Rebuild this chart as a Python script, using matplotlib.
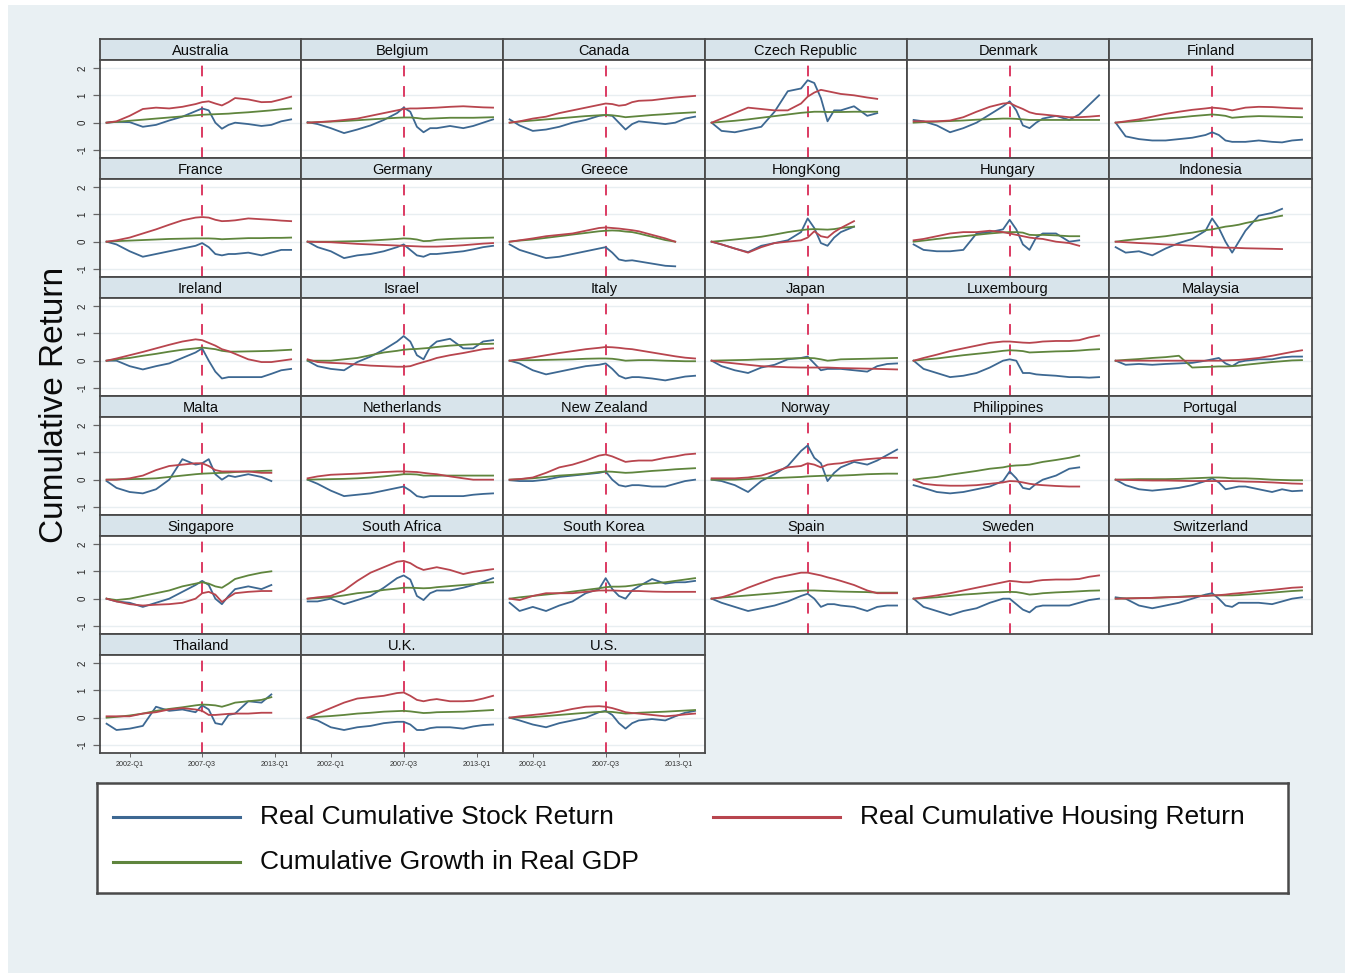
#!/usr/bin/env python3
"""
Real cumulative stock / housing returns and real GDP growth by country.
Small-multiple panels, 2000-2014, with the 2007-Q3 stock market peak marked.
"""

import matplotlib
matplotlib.use("Agg")
import numpy as np
import matplotlib.pyplot as plt
from matplotlib.lines import Line2D
from matplotlib.patches import Rectangle


# ============================================================================
# Data
# ============================================================================

# sample dates, decimal years
DATES = [2000.25, 2001.0, 2002.0, 2003.0, 2004.0, 2005.0, 2006.0, 2007.0, 2007.5,
         2008.0, 2008.5, 2009.0, 2009.5, 2010.0, 2011.0, 2012.0, 2012.75, 2013.5, 2014.25]

COUNTRIES = [
    "Australia", "Belgium", "Canada", "Czech Republic", "Denmark", "Finland",
    "France", "Germany", "Greece", "HongKong", "Hungary", "Indonesia",
    "Ireland", "Israel", "Italy", "Japan", "Luxembourg", "Malaysia",
    "Malta", "Netherlands", "New Zealand", "Norway", "Philippines", "Portugal",
    "Singapore", "South Africa", "South Korea", "Spain", "Sweden", "Switzerland",
    "Thailand", "U.K.", "U.S.",
]

# real cumulative stock return
STOCK = {
    "Australia": [0, 0.03, 0.02, -0.15, -0.08, 0.08, 0.22, 0.42, 0.52, 0.45, 0.0, -0.22, -0.08, 0.0, -0.05, -0.12, -0.08, 0.05, 0.12],
    "Belgium": [0.02, -0.05, -0.2, -0.38, -0.25, -0.1, 0.1, 0.35, 0.55, 0.4, -0.15, -0.35, -0.2, -0.2, -0.12, -0.2, -0.12, 0.0, 0.12],
    "Canada": [0.12, -0.1, -0.3, -0.25, -0.15, 0.0, 0.1, 0.25, 0.28, 0.25, 0.0, -0.25, -0.05, 0.05, 0.0, -0.05, 0.0, 0.15, 0.22],
    "Czech Republic": [0, -0.3, -0.35, -0.25, -0.15, 0.4, 1.15, 1.25, 1.55, 1.45, 0.9, 0.05, 0.45, 0.45, 0.6, 0.25, 0.35, None, None],
    "Denmark": [0.1, 0.05, -0.1, -0.35, -0.2, 0.0, 0.3, 0.6, 0.78, 0.45, -0.1, -0.2, 0.0, 0.15, 0.25, 0.1, 0.3, 0.65, 1.0],
    "Finland": [0, -0.5, -0.6, -0.65, -0.65, -0.6, -0.55, -0.45, -0.35, -0.45, -0.65, -0.7, -0.7, -0.7, -0.65, -0.7, -0.72, -0.65, -0.62],
    "France": [0, -0.1, -0.35, -0.55, -0.45, -0.35, -0.25, -0.15, -0.05, -0.2, -0.45, -0.5, -0.45, -0.45, -0.4, -0.5, -0.4, -0.3, -0.3],
    "Germany": [0, -0.2, -0.35, -0.6, -0.5, -0.45, -0.35, -0.2, -0.1, -0.3, -0.5, -0.55, -0.45, -0.45, -0.4, -0.35, -0.28, -0.2, -0.15],
    "Greece": [-0.1, -0.3, -0.45, -0.6, -0.55, -0.45, -0.35, -0.25, -0.2, -0.4, -0.65, -0.7, -0.68, -0.72, -0.8, -0.88, -0.9, None, None],
    "HongKong": [0, -0.1, -0.25, -0.38, -0.15, -0.05, 0.05, 0.35, 0.85, 0.5, -0.05, -0.15, 0.15, 0.35, 0.55, None, None, None, None],
    "Hungary": [-0.1, -0.3, -0.35, -0.35, -0.3, 0.3, 0.35, 0.45, 0.8, 0.45, -0.1, -0.3, 0.15, 0.3, 0.3, 0.0, 0.05, None, None],
    "Indonesia": [-0.2, -0.4, -0.35, -0.5, -0.25, -0.05, 0.1, 0.4, 0.85, 0.5, 0.0, -0.4, 0.0, 0.4, 0.95, 1.05, 1.2, None, None],
    "Ireland": [0, 0.0, -0.2, -0.32, -0.2, -0.1, 0.1, 0.3, 0.45, 0.0, -0.4, -0.65, -0.6, -0.6, -0.6, -0.6, -0.48, -0.35, -0.3],
    "Israel": [0, -0.2, -0.3, -0.35, -0.05, 0.15, 0.4, 0.7, 0.9, 0.7, 0.2, 0.05, 0.5, 0.7, 0.8, 0.45, 0.45, 0.7, 0.75],
    "Italy": [0, -0.1, -0.35, -0.5, -0.4, -0.3, -0.2, -0.15, -0.1, -0.3, -0.55, -0.65, -0.6, -0.6, -0.65, -0.72, -0.65, -0.58, -0.55],
    "Japan": [0, -0.2, -0.35, -0.45, -0.25, -0.15, 0.05, 0.1, 0.15, -0.1, -0.35, -0.3, -0.3, -0.3, -0.35, -0.4, -0.2, -0.12, -0.1],
    "Luxembourg": [0, -0.3, -0.45, -0.6, -0.55, -0.45, -0.25, 0.0, 0.05, 0.0, -0.45, -0.45, -0.5, -0.52, -0.55, -0.6, -0.6, -0.62, -0.6],
    "Malaysia": [0, -0.15, -0.12, -0.15, -0.12, -0.1, -0.08, 0.0, 0.05, 0.1, -0.1, -0.2, -0.05, 0.0, 0.05, 0.05, 0.12, 0.15, 0.15],
    "Malta": [-0.05, -0.3, -0.45, -0.5, -0.35, 0.0, 0.75, 0.55, 0.6, 0.75, 0.2, 0.0, 0.15, 0.1, 0.2, 0.1, -0.05, None, None],
    "Netherlands": [0, -0.15, -0.4, -0.6, -0.55, -0.5, -0.4, -0.3, -0.25, -0.4, -0.6, -0.65, -0.6, -0.6, -0.6, -0.6, -0.55, -0.52, -0.5],
    "New Zealand": [-0.02, -0.05, -0.05, 0.0, 0.1, 0.15, 0.2, 0.25, 0.3, 0.0, -0.2, -0.25, -0.2, -0.2, -0.25, -0.25, -0.15, -0.05, 0.0],
    "Norway": [0, -0.05, -0.2, -0.45, -0.05, 0.2, 0.5, 1.05, 1.25, 0.8, 0.6, -0.05, 0.25, 0.45, 0.65, 0.55, 0.7, 0.9, 1.1],
    "Philippines": [-0.2, -0.3, -0.45, -0.5, -0.45, -0.35, -0.25, -0.05, 0.3, 0.05, -0.3, -0.35, -0.15, 0.0, 0.15, 0.4, 0.45, None, None],
    "Portugal": [0, -0.2, -0.35, -0.4, -0.35, -0.3, -0.2, -0.05, 0.05, -0.1, -0.35, -0.3, -0.25, -0.25, -0.35, -0.45, -0.35, -0.42, -0.4],
    "Singapore": [0, -0.1, -0.15, -0.3, -0.15, 0.0, 0.25, 0.5, 0.65, 0.5, 0.0, -0.2, 0.1, 0.35, 0.45, 0.35, 0.5, None, None],
    "South Africa": [-0.1, -0.1, 0.0, -0.2, -0.05, 0.1, 0.4, 0.75, 0.85, 0.7, 0.1, -0.05, 0.2, 0.3, 0.3, 0.4, 0.5, 0.62, 0.75],
    "South Korea": [-0.15, -0.45, -0.3, -0.45, -0.25, -0.1, 0.2, 0.35, 0.75, 0.35, 0.1, 0.0, 0.3, 0.45, 0.72, 0.55, 0.6, 0.6, 0.65],
    "Spain": [0, -0.15, -0.3, -0.45, -0.35, -0.25, -0.1, 0.1, 0.18, 0.0, -0.3, -0.2, -0.2, -0.25, -0.3, -0.45, -0.3, -0.25, -0.25],
    "Sweden": [0, -0.3, -0.45, -0.6, -0.45, -0.35, -0.15, 0.0, 0.0, -0.2, -0.4, -0.5, -0.3, -0.25, -0.25, -0.25, -0.15, -0.05, 0.0],
    "Switzerland": [0.05, 0.0, -0.25, -0.35, -0.25, -0.15, 0.0, 0.15, 0.2, 0.0, -0.25, -0.3, -0.15, -0.15, -0.15, -0.2, -0.1, 0.0, 0.05],
    "Thailand": [-0.22, -0.45, -0.4, -0.3, 0.4, 0.25, 0.3, 0.2, 0.45, 0.3, -0.2, -0.25, 0.1, 0.15, 0.6, 0.55, 0.85, None, None],
    "U.K.": [0, -0.1, -0.35, -0.45, -0.35, -0.3, -0.2, -0.15, -0.15, -0.25, -0.45, -0.45, -0.38, -0.35, -0.35, -0.4, -0.32, -0.27, -0.25],
    "U.S.": [0, -0.1, -0.25, -0.35, -0.2, -0.1, 0.0, 0.2, 0.25, 0.1, -0.2, -0.4, -0.2, -0.1, -0.05, -0.1, 0.05, 0.18, 0.25],
}

# real cumulative housing return
HOUSING = {
    "Australia": [0, 0.05, 0.25, 0.5, 0.55, 0.52, 0.58, 0.68, 0.75, 0.78, 0.7, 0.63, 0.75, 0.9, 0.85, 0.75, 0.76, 0.85, 0.95],
    "Belgium": [0, 0.02, 0.05, 0.1, 0.15, 0.25, 0.35, 0.45, 0.5, 0.52, 0.52, 0.53, 0.54, 0.55, 0.58, 0.6, 0.58, 0.56, 0.55],
    "Canada": [0, 0.05, 0.15, 0.22, 0.35, 0.45, 0.55, 0.65, 0.7, 0.68, 0.62, 0.65, 0.75, 0.8, 0.82, 0.88, 0.92, 0.95, 0.98],
    "Czech Republic": [0, 0.15, 0.35, 0.55, 0.5, 0.45, 0.45, 0.7, 0.95, 1.1, 1.2, 1.15, 1.1, 1.05, 1.0, 0.92, 0.87, None, None],
    "Denmark": [0.05, 0.05, 0.05, 0.08, 0.2, 0.4, 0.58, 0.7, 0.72, 0.6, 0.5, 0.38, 0.32, 0.3, 0.25, 0.2, 0.2, 0.22, 0.25],
    "Finland": [0, 0.05, 0.12, 0.22, 0.32, 0.4, 0.47, 0.52, 0.55, 0.53, 0.5, 0.45, 0.5, 0.55, 0.58, 0.57, 0.55, 0.53, 0.52],
    "France": [0, 0.05, 0.15, 0.3, 0.45, 0.62, 0.78, 0.88, 0.9, 0.88, 0.8, 0.75, 0.76, 0.78, 0.85, 0.82, 0.8, 0.77, 0.75],
    "Germany": [0, -0.01, -0.02, -0.05, -0.08, -0.1, -0.12, -0.14, -0.15, -0.16, -0.17, -0.18, -0.18, -0.18, -0.16, -0.13, -0.1, -0.07, -0.05],
    "Greece": [0, 0.05, 0.12, 0.2, 0.25, 0.3, 0.4, 0.5, 0.52, 0.5, 0.48, 0.45, 0.42, 0.38, 0.25, 0.12, 0.0, None, None],
    "HongKong": [0, -0.1, -0.25, -0.4, -0.2, -0.05, 0.0, 0.05, 0.15, 0.38, 0.2, 0.15, 0.35, 0.5, 0.75, None, None, None, None],
    "Hungary": [0.05, 0.1, 0.2, 0.3, 0.35, 0.35, 0.4, 0.35, 0.3, 0.25, 0.2, 0.15, 0.12, 0.1, 0.0, -0.05, -0.15, None, None],
    "Indonesia": [0, -0.02, -0.05, -0.07, -0.1, -0.12, -0.15, -0.18, -0.2, -0.21, -0.22, -0.22, -0.23, -0.24, -0.25, -0.26, -0.27, None, None],
    "Ireland": [0, 0.08, 0.2, 0.32, 0.45, 0.58, 0.7, 0.78, 0.75, 0.65, 0.55, 0.42, 0.35, 0.25, 0.05, -0.05, -0.05, 0.0, 0.05],
    "Israel": [0.05, -0.05, -0.08, -0.1, -0.14, -0.18, -0.2, -0.22, -0.22, -0.2, -0.12, -0.05, 0.02, 0.1, 0.2, 0.28, 0.35, 0.42, 0.45],
    "Italy": [0, 0.05, 0.12, 0.2, 0.28, 0.35, 0.42, 0.47, 0.5, 0.49, 0.47, 0.44, 0.42, 0.38, 0.3, 0.22, 0.16, 0.11, 0.08],
    "Japan": [0, -0.05, -0.1, -0.15, -0.2, -0.22, -0.24, -0.25, -0.25, -0.25, -0.25, -0.25, -0.26, -0.27, -0.28, -0.29, -0.3, -0.31, -0.32],
    "Luxembourg": [0, 0.1, 0.22, 0.35, 0.45, 0.55, 0.65, 0.7, 0.7, 0.68, 0.66, 0.65, 0.67, 0.7, 0.72, 0.72, 0.75, 0.85, 0.92],
    "Malaysia": [0, 0.0, 0.0, 0.0, 0.0, 0.0, 0.0, 0.0, 0.0, 0.0, 0.01, 0.02, 0.03, 0.05, 0.1, 0.18, 0.25, 0.32, 0.38],
    "Malta": [0, 0.0, 0.05, 0.15, 0.35, 0.5, 0.55, 0.6, 0.6, 0.5, 0.35, 0.3, 0.3, 0.3, 0.3, 0.25, 0.25, None, None],
    "Netherlands": [0.05, 0.12, 0.18, 0.2, 0.22, 0.25, 0.28, 0.3, 0.3, 0.29, 0.28, 0.25, 0.22, 0.2, 0.12, 0.05, 0.0, 0.0, 0.0],
    "New Zealand": [0, 0.02, 0.08, 0.25, 0.45, 0.55, 0.7, 0.88, 0.92, 0.85, 0.75, 0.65, 0.68, 0.7, 0.7, 0.8, 0.85, 0.92, 0.95],
    "Norway": [0.05, 0.05, 0.05, 0.08, 0.15, 0.3, 0.45, 0.5, 0.6, 0.55, 0.45, 0.55, 0.58, 0.6, 0.7, 0.75, 0.78, 0.8, 0.8],
    "Philippines": [0.0, -0.15, -0.2, -0.22, -0.22, -0.2, -0.15, -0.1, -0.05, -0.06, -0.1, -0.15, -0.18, -0.2, -0.23, -0.25, -0.25, None, None],
    "Portugal": [0, -0.01, -0.02, -0.03, -0.03, -0.04, -0.05, -0.05, -0.05, -0.05, -0.05, -0.05, -0.06, -0.07, -0.08, -0.1, -0.12, -0.14, -0.15],
    "Singapore": [0, -0.1, -0.2, -0.25, -0.22, -0.2, -0.15, 0.0, 0.2, 0.25, 0.15, -0.12, 0.05, 0.2, 0.25, 0.28, 0.28, None, None],
    "South Africa": [0, 0.05, 0.1, 0.3, 0.65, 0.95, 1.15, 1.35, 1.38, 1.3, 1.15, 1.05, 1.1, 1.15, 1.05, 0.9, 0.98, 1.03, 1.08],
    "South Korea": [0, -0.05, 0.1, 0.2, 0.2, 0.2, 0.25, 0.3, 0.3, 0.3, 0.29, 0.28, 0.28, 0.28, 0.26, 0.25, 0.25, 0.25, 0.25],
    "Spain": [0, 0.05, 0.2, 0.4, 0.58, 0.75, 0.85, 0.95, 0.95, 0.9, 0.85, 0.78, 0.72, 0.65, 0.5, 0.3, 0.2, 0.2, 0.2],
    "Sweden": [0, 0.05, 0.12, 0.2, 0.3, 0.4, 0.5, 0.6, 0.65, 0.63, 0.6, 0.6, 0.65, 0.68, 0.7, 0.7, 0.72, 0.8, 0.85],
    "Switzerland": [0, 0.01, 0.02, 0.03, 0.05, 0.06, 0.08, 0.1, 0.12, 0.13, 0.15, 0.18, 0.2, 0.22, 0.28, 0.32, 0.36, 0.4, 0.42],
    "Thailand": [0.05, 0.05, 0.05, 0.15, 0.2, 0.3, 0.35, 0.3, 0.25, 0.1, 0.1, 0.12, 0.14, 0.15, 0.15, 0.18, 0.18, None, None],
    "U.K.": [0, 0.15, 0.35, 0.55, 0.7, 0.75, 0.8, 0.9, 0.92, 0.8, 0.65, 0.6, 0.65, 0.68, 0.6, 0.6, 0.62, 0.7, 0.8],
    "U.S.": [0, 0.05, 0.1, 0.15, 0.22, 0.32, 0.4, 0.42, 0.4, 0.35, 0.28, 0.2, 0.17, 0.15, 0.1, 0.05, 0.08, 0.12, 0.15],
}

# cumulative growth in real GDP
GDP = {
    "Australia": [0, 0.03, 0.07, 0.11, 0.15, 0.19, 0.23, 0.27, 0.29, 0.3, 0.31, 0.32, 0.33, 0.35, 0.38, 0.42, 0.45, 0.49, 0.52],
    "Belgium": [0, 0.02, 0.04, 0.06, 0.09, 0.12, 0.15, 0.18, 0.19, 0.19, 0.17, 0.14, 0.15, 0.16, 0.18, 0.18, 0.18, 0.19, 0.2],
    "Canada": [0, 0.04, 0.08, 0.12, 0.16, 0.2, 0.24, 0.27, 0.28, 0.27, 0.24, 0.2, 0.22, 0.24, 0.28, 0.31, 0.34, 0.36, 0.38],
    "Czech Republic": [0, 0.03, 0.07, 0.12, 0.18, 0.24, 0.3, 0.36, 0.38, 0.4, 0.4, 0.39, 0.39, 0.39, 0.4, 0.4, 0.4, None, None],
    "Denmark": [0, 0.02, 0.04, 0.06, 0.08, 0.11, 0.13, 0.15, 0.15, 0.14, 0.12, 0.1, 0.1, 0.1, 0.1, 0.1, 0.1, 0.1, 0.1],
    "Finland": [0, 0.03, 0.06, 0.1, 0.15, 0.19, 0.24, 0.28, 0.3, 0.28, 0.25, 0.18, 0.2, 0.22, 0.24, 0.23, 0.22, 0.21, 0.2],
    "France": [0, 0.02, 0.04, 0.06, 0.08, 0.1, 0.11, 0.12, 0.12, 0.12, 0.11, 0.09, 0.1, 0.11, 0.13, 0.13, 0.14, 0.14, 0.15],
    "Germany": [0, 0.0, 0.0, 0.01, 0.02, 0.04, 0.07, 0.1, 0.12, 0.11, 0.08, 0.02, 0.03, 0.07, 0.1, 0.12, 0.13, 0.14, 0.15],
    "Greece": [0, 0.04, 0.08, 0.14, 0.2, 0.26, 0.32, 0.38, 0.4, 0.41, 0.4, 0.37, 0.35, 0.3, 0.18, 0.06, 0.0, None, None],
    "HongKong": [0, 0.03, 0.08, 0.13, 0.18, 0.26, 0.35, 0.42, 0.45, 0.46, 0.45, 0.44, 0.46, 0.5, 0.55, None, None, None, None],
    "Hungary": [0, 0.04, 0.1, 0.15, 0.2, 0.25, 0.3, 0.34, 0.35, 0.35, 0.33, 0.25, 0.24, 0.25, 0.23, 0.2, 0.2, None, None],
    "Indonesia": [0, 0.05, 0.1, 0.15, 0.2, 0.27, 0.33, 0.42, 0.45, 0.5, 0.55, 0.58, 0.62, 0.68, 0.78, 0.88, 0.95, None, None],
    "Ireland": [0, 0.05, 0.1, 0.18, 0.25, 0.33, 0.4, 0.45, 0.48, 0.45, 0.42, 0.36, 0.33, 0.33, 0.34, 0.35, 0.36, 0.38, 0.4],
    "Israel": [0, 0.0, 0.0, 0.05, 0.1, 0.2, 0.3, 0.36, 0.4, 0.42, 0.43, 0.45, 0.47, 0.5, 0.55, 0.58, 0.6, 0.61, 0.62],
    "Italy": [0, 0.02, 0.02, 0.03, 0.04, 0.05, 0.07, 0.08, 0.08, 0.07, 0.04, 0.0, 0.01, 0.02, 0.02, 0.0, -0.01, -0.02, -0.02],
    "Japan": [0, 0.01, 0.02, 0.03, 0.05, 0.06, 0.08, 0.09, 0.1, 0.09, 0.05, 0.0, 0.02, 0.05, 0.06, 0.07, 0.08, 0.09, 0.1],
    "Luxembourg": [0, 0.04, 0.08, 0.14, 0.2, 0.25, 0.3, 0.36, 0.38, 0.37, 0.35, 0.3, 0.31, 0.32, 0.34, 0.35, 0.37, 0.4, 0.42],
    "Malaysia": [0, 0.03, 0.06, 0.1, 0.13, 0.18, -0.25, -0.23, -0.22, -0.21, -0.21, -0.2, -0.18, -0.15, -0.1, -0.05, -0.02, 0.01, 0.02],
    "Malta": [0, 0.01, 0.02, 0.03, 0.05, 0.1, 0.15, 0.2, 0.22, 0.23, 0.24, 0.25, 0.26, 0.28, 0.3, 0.32, 0.33, None, None],
    "Netherlands": [0, 0.01, 0.02, 0.03, 0.05, 0.08, 0.12, 0.17, 0.2, 0.2, 0.19, 0.15, 0.15, 0.15, 0.15, 0.15, 0.15, 0.15, 0.15],
    "New Zealand": [0, 0.02, 0.05, 0.1, 0.15, 0.18, 0.22, 0.28, 0.3, 0.29, 0.27, 0.25, 0.26, 0.28, 0.32, 0.35, 0.38, 0.4, 0.42],
    "Norway": [0, 0.0, 0.0, 0.02, 0.05, 0.06, 0.08, 0.1, 0.12, 0.13, 0.14, 0.15, 0.15, 0.15, 0.17, 0.2, 0.21, 0.22, 0.22],
    "Philippines": [0, 0.05, 0.1, 0.18, 0.25, 0.32, 0.4, 0.45, 0.5, 0.52, 0.53, 0.55, 0.6, 0.65, 0.72, 0.8, 0.88, None, None],
    "Portugal": [0, 0.01, 0.02, 0.02, 0.02, 0.03, 0.05, 0.07, 0.08, 0.08, 0.07, 0.05, 0.05, 0.05, 0.03, 0.0, -0.01, -0.02, -0.02],
    "Singapore": [0, -0.05, 0.0, 0.1, 0.2, 0.3, 0.45, 0.55, 0.6, 0.55, 0.45, 0.4, 0.55, 0.72, 0.85, 0.95, 1.0, None, None],
    "South Africa": [0, 0.02, 0.05, 0.12, 0.2, 0.25, 0.32, 0.37, 0.4, 0.4, 0.39, 0.38, 0.39, 0.42, 0.46, 0.5, 0.53, 0.57, 0.6],
    "South Korea": [0, 0.05, 0.1, 0.15, 0.2, 0.26, 0.32, 0.38, 0.42, 0.44, 0.44, 0.45, 0.48, 0.52, 0.56, 0.6, 0.65, 0.7, 0.75],
    "Spain": [0, 0.04, 0.08, 0.12, 0.16, 0.2, 0.25, 0.29, 0.3, 0.3, 0.29, 0.28, 0.27, 0.26, 0.25, 0.24, 0.22, 0.22, 0.22],
    "Sweden": [0, 0.02, 0.05, 0.1, 0.15, 0.18, 0.22, 0.24, 0.25, 0.24, 0.2, 0.15, 0.17, 0.2, 0.23, 0.25, 0.27, 0.29, 0.3],
    "Switzerland": [0, 0.01, 0.02, 0.03, 0.05, 0.07, 0.1, 0.11, 0.12, 0.12, 0.12, 0.12, 0.13, 0.15, 0.18, 0.22, 0.25, 0.28, 0.3],
    "Thailand": [0, 0.03, 0.08, 0.15, 0.25, 0.32, 0.38, 0.45, 0.48, 0.47, 0.45, 0.4, 0.47, 0.55, 0.6, 0.65, 0.75, None, None],
    "U.K.": [0, 0.03, 0.06, 0.1, 0.15, 0.18, 0.22, 0.24, 0.25, 0.23, 0.2, 0.17, 0.18, 0.2, 0.21, 0.22, 0.24, 0.26, 0.28],
    "U.S.": [0, 0.01, 0.02, 0.06, 0.1, 0.14, 0.18, 0.21, 0.22, 0.21, 0.18, 0.15, 0.16, 0.18, 0.2, 0.22, 0.24, 0.26, 0.28],
}

PEAK_DATE = 2007.5
X_TICKS = [2002.0, 2007.5, 2013.0]
X_TICK_LABELS = ["2002-Q1", "2007-Q3", "2013-Q1"]
Y_TICKS = [-1, 0, 1, 2]

SERIES_LABELS = ["Real Cumulative Stock Return", "Real Cumulative Housing Return",
                 "Cumulative Growth in Real GDP"]


# ============================================================================
# Style / layout (pixel units on a 1352x975 canvas)
# ============================================================================

FIG_W, FIG_H = 1352, 975
FONT = "Liberation Sans"

COLOR_STOCK = "#3d6892"
COLOR_HOUSING = "#b8454e"
COLOR_GDP = "#5f853d"
COLOR_PEAK = "#dc3a62"
COLOR_BG = "#e9f0f3"
COLOR_HEADER = "#d8e4eb"
COLOR_FRAME = "#4a4a4a"
COLOR_GRID = "#e8eef1"

COL_X = [100, 301, 503, 705, 907, 1109, 1312]
ROW_TOP = 39
ROW_STEP = 119
HEADER_H = 21
N_COLS = 6
X_LIM = (1999.75, 2015.0)
Y_LIM = (-1.29, 2.29)


def px_box(x0, y0, x1, y1):
    """Convert a pixel box (top-left origin) to figure-fraction [l, b, w, h]."""
    return [x0 / FIG_W, 1 - y1 / FIG_H, (x1 - x0) / FIG_W, (y1 - y0) / FIG_H]


def style_frame(ax, lw=1.3):
    for side in ax.spines.values():
        side.set_color(COLOR_FRAME)
        side.set_linewidth(lw)


# ============================================================================
# Drawing
# ============================================================================

def draw_panel(fig, idx, name, last_row):
    row, col = divmod(idx, N_COLS)
    x0, x1 = COL_X[col], COL_X[col + 1]
    top = ROW_TOP + row * ROW_STEP

    # header strip with country name
    hax = fig.add_axes(px_box(x0, top, x1, top + HEADER_H))
    hax.set_facecolor(COLOR_HEADER)
    hax.set_xticks([])
    hax.set_yticks([])
    style_frame(hax)
    hax.text(0.5, 0.45, name, ha="center", va="center", fontsize=10.5,
             family=FONT, color="#0a0a0a", transform=hax.transAxes)

    ax = fig.add_axes(px_box(x0, top + HEADER_H, x1, top + ROW_STEP))
    ax.set_facecolor("white")
    style_frame(ax)
    ax.set_xlim(*X_LIM)
    ax.set_ylim(*Y_LIM)

    for y in Y_TICKS:
        ax.axhline(y, color=COLOR_GRID, lw=1.0, zorder=0)
    ax.axvline(PEAK_DATE, color=COLOR_PEAK, lw=1.4, linestyle=(0, (5.5, 5)), zorder=1)

    dates = np.array(DATES)
    for series, color in ((STOCK, COLOR_STOCK), (GDP, COLOR_GDP), (HOUSING, COLOR_HOUSING)):
        vals = np.array(series[name], dtype=float)
        ax.plot(dates, vals, color=color, lw=1.3, zorder=3)

    # y axis only on the first column
    ax.set_yticks(Y_TICKS)
    if col == 0:
        ax.set_yticklabels([str(v) for v in Y_TICKS], rotation=90, va="center",
                           fontsize=7, family=FONT, color="#222222")
        ax.tick_params(axis="y", length=5, width=0.9, color="#666666", pad=4)
    else:
        ax.tick_params(axis="y", left=False, labelleft=False)

    ax.set_xticks(X_TICKS)
    if last_row:
        ax.set_xticklabels(X_TICK_LABELS, fontsize=5.2, family=FONT, color="#333333")
        ax.tick_params(axis="x", length=3, width=0.7, color="#666666", pad=3)
    else:
        ax.tick_params(axis="x", bottom=False, labelbottom=False)
    return ax


def draw_legend(fig):
    lax = fig.add_axes(px_box(97, 783, 1288, 893))
    lax.set_facecolor("white")
    lax.set_xticks([])
    lax.set_yticks([])
    style_frame(lax, lw=1.8)
    lax.set_xlim(97, 1288)
    lax.set_ylim(893, 783)

    entries = [
        (SERIES_LABELS[0], COLOR_STOCK, 113, 817),
        (SERIES_LABELS[1], COLOR_HOUSING, 713, 817),
        (SERIES_LABELS[2], COLOR_GDP, 113, 862),
    ]
    for label, color, x, y in entries:
        lax.add_line(Line2D([x, x + 127], [y, y], color=color, lw=2.2))
        lax.text(x + 147, y, label, ha="left", va="center", fontsize=19,
                 family=FONT, color="#0a0a0a")


def main():
    fig = plt.figure(figsize=(FIG_W / 100, FIG_H / 100), dpi=100)
    fig.patch.set_facecolor("white")
    fig.patches.append(Rectangle((8 / FIG_W, 1 - 973 / FIG_H), 1337 / FIG_W, 968 / FIG_H,
                                 transform=fig.transFigure, facecolor=COLOR_BG,
                                 edgecolor="none", zorder=-10))

    n = len(COUNTRIES)
    for i, name in enumerate(COUNTRIES):
        draw_panel(fig, i, name, last_row=(i // N_COLS == (n - 1) // N_COLS))

    fig.text(55 / FIG_W, 1 - 405 / FIG_H, "Cumulative Return", rotation=90,
             ha="center", va="center", fontsize=24, family=FONT, color="#0a0a0a")

    draw_legend(fig)

    fig.savefig("out.png", dpi=100, facecolor=fig.get_facecolor())


if __name__ == "__main__":
    main()
